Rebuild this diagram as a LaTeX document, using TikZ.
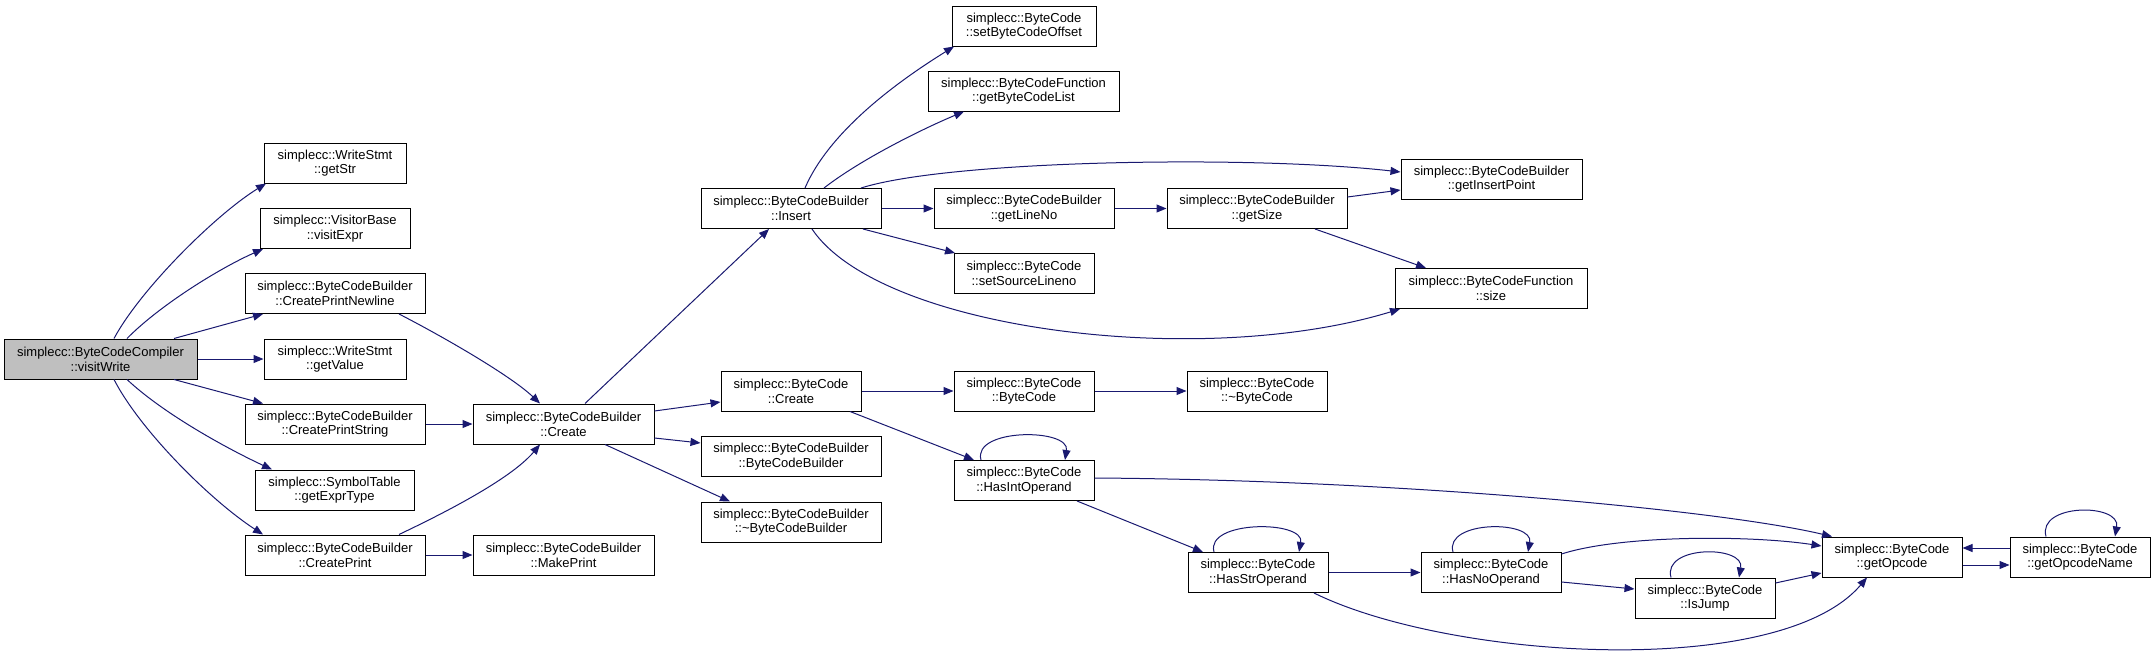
\documentclass[tikz,border=0pt]{standalone}
\usepackage{fontspec}
\setmainfont{Liberation Sans}
\usetikzlibrary{arrows.meta}
\definecolor{mblue}{RGB}{25,25,112}
\definecolor{nodegray}{RGB}{191,191,191}
\tikzset{
  box/.style={draw=black, line width=1pt, fill=white, inner sep=0pt, minimum height=40pt,
    align=center, font=\fontsize{13}{14.7}\selectfont},
  cg/.style={draw=mblue, line width=1pt, -{Triangle[length=10pt,width=8pt]}, fill=none}
}
\begin{document}
\begin{tikzpicture}[x=1pt,y=-1pt]
\useasboundingbox (0,0) rectangle (2156,656);
% nodes
\node[box, minimum width=193pt, fill=nodegray] (vw) at (100.5,359) {simplecc::ByteCodeCompiler\\::visitWrite};
\node[box, minimum width=142pt] (getStr) at (335,163) {simplecc::WriteStmt\\::getStr};
\node[box, minimum width=150pt] (visitExpr) at (335,228.5) {simplecc::VisitorBase\\::visitExpr};
\node[box, minimum width=180pt] (cpn) at (335,293.5) {simplecc::ByteCodeBuilder\\::CreatePrintNewline};
\node[box, minimum width=142pt] (getValue) at (335,359) {simplecc::WriteStmt\\::getValue};
\node[box, minimum width=180pt] (cps) at (335,424) {simplecc::ByteCodeBuilder\\::CreatePrintString};
\node[box, minimum width=159pt] (getExprType) at (334.5,490) {simplecc::SymbolTable\\::getExprType};
\node[box, minimum width=180pt] (cp) at (335,555) {simplecc::ByteCodeBuilder\\::CreatePrint};
\node[box, minimum width=181pt] (create) at (563.5,424) {simplecc::ByteCodeBuilder\\::Create};
\node[box, minimum width=181pt] (makePrint) at (563.5,555) {simplecc::ByteCodeBuilder\\::MakePrint};
\node[box, minimum width=180pt] (insert) at (791,208.5) {simplecc::ByteCodeBuilder\\::Insert};
\node[box, minimum width=140pt] (createBC) at (791,391) {simplecc::ByteCode\\::Create};
\node[box, minimum width=180pt] (bcbCtor) at (791,456.5) {simplecc::ByteCodeBuilder\\::ByteCodeBuilder};
\node[box, minimum width=180pt] (bcbDtor) at (791,522) {simplecc::ByteCodeBuilder\\::\textasciitilde ByteCodeBuilder};
\node[box, minimum width=144pt] (setBCO) at (1024,26) {simplecc::ByteCode\\::setByteCodeOffset};
\node[box, minimum width=191pt] (getBCL) at (1023.5,91) {simplecc::ByteCodeFunction\\::getByteCodeList};
\node[box, minimum width=180pt] (getLineNo) at (1024,208.5) {simplecc::ByteCodeBuilder\\::getLineNo};
\node[box, minimum width=140pt] (setSrc) at (1024,273.5) {simplecc::ByteCode\\::setSourceLineno};
\node[box, minimum width=140pt] (bcCtor) at (1024,391) {simplecc::ByteCode\\::ByteCode};
\node[box, minimum width=140pt] (hasInt) at (1024,480.5) {simplecc::ByteCode\\::HasIntOperand};
\node[box, minimum width=180pt] (getSize) at (1257,208.5) {simplecc::ByteCodeBuilder\\::getSize};
\node[box, minimum width=140pt] (bcDtor) at (1257,391) {simplecc::ByteCode\\::\textasciitilde ByteCode};
\node[box, minimum width=140pt] (hasStr) at (1258,572.5) {simplecc::ByteCode\\::HasStrOperand};
\node[box, minimum width=181pt] (getIP) at (1491.5,179) {simplecc::ByteCodeBuilder\\::getInsertPoint};
\node[box, minimum width=192pt] (size) at (1491,288.5) {simplecc::ByteCodeFunction\\::size};
\node[box, minimum width=140pt] (hasNo) at (1491,572.5) {simplecc::ByteCode\\::HasNoOperand};
\node[box, minimum width=140pt] (isJump) at (1705,598) {simplecc::ByteCode\\::IsJump};
\node[box, minimum width=140pt] (getOpcode) at (1892,557) {simplecc::ByteCode\\::getOpcode};
\node[box, minimum width=140pt] (getOpName) at (2080,557) {simplecc::ByteCode\\::getOpcodeName};
% edges from visitWrite
\draw[cg] (114,0 |- vw.north) .. controls (140,290) and (215,215) .. (266,0 |- getStr.south);
\draw[cg] (127,0 |- vw.north) .. controls (160,305) and (220,268) .. (263,0 |- visitExpr.south);
\draw[cg] (174,0 |- vw.north) -- (263,0 |- cpn.south);
\draw[cg] (vw.east) -- (getValue.west);
\draw[cg] (174,0 |- vw.south) -- (263,0 |- cps.north);
\draw[cg] (127,0 |- vw.south) .. controls (165,415) and (230,450) .. (272,0 |- getExprType.north);
\draw[cg] (114,0 |- vw.south) .. controls (140,430) and (210,500) .. (263,0 |- cp.north);
% to Create
\draw[cg] (399,0 |- cpn.south) .. controls (440,335) and (510,375) .. (540,0 |- create.north);
\draw[cg] (cps.east) -- (create.west);
\draw[cg] (399,0 |- cp.north) .. controls (440,515) and (510,480) .. (540,0 |- create.south);
\draw[cg] (cp.east) -- (makePrint.west);
% from Create
\draw[cg] (585,0 |- create.north) -- (769,0 |- insert.south);
\draw[cg] (create.east |- 0,411) -- (createBC.west |- 0,402);
\draw[cg] (create.east |- 0,438) -- (bcbCtor.west |- 0,443);
\draw[cg] (605,0 |- create.south) -- (730,0 |- bcbDtor.north);
% from Insert
\draw[cg] (805,0 |- insert.north) .. controls (830,130) and (900,80) .. (954,0 |- setBCO.south);
\draw[cg] (824,0 |- insert.north) .. controls (860,160) and (920,130) .. (964,0 |- getBCL.south);
\draw[cg] (861,0 |- insert.north) .. controls (950,160) and (1250,155) .. (getIP.west |- 0,172);
\draw[cg] (insert.east) -- (getLineNo.west);
\draw[cg] (863,0 |- insert.south) -- (955,0 |- setSrc.north);
\draw[cg] (812,0 |- insert.south) .. controls (880,330) and (1200,370) .. (1400,0 |- size.south);
\draw[cg] (getLineNo.east) -- (getSize.west);
\draw[cg] (getSize.east |- 0,197) -- (getIP.west |- 0,190);
\draw[cg] (1315,0 |- getSize.south) -- (1426,0 |- size.north);
% ByteCode::Create
\draw[cg] (createBC.east) -- (bcCtor.west);
\draw[cg] (bcCtor.east) -- (bcDtor.west);
\draw[cg] (850,0 |- createBC.south) -- (974,0 |- hasInt.north);
% HasIntOperand
\draw[cg] (981,0 |- hasInt.north) .. controls (972,428) and (1070,428) .. (1065,0 |- hasInt.north);
\draw[cg] (1077,0 |- hasInt.south) -- (1203,0 |- hasStr.north);
\draw[cg] (hasInt.east |- 0,478) .. controls (1400,480) and (1720,510) .. (1832,0 |- getOpcode.north);
% HasStrOperand
\draw[cg] (1214,0 |- hasStr.north) .. controls (1205,520) and (1305,520) .. (1299,0 |- hasStr.north);
\draw[cg] (hasStr.east) -- (hasNo.west);
\draw[cg] (1314,0 |- hasStr.south) .. controls (1450,660) and (1780,680) .. (1867,0 |- getOpcode.south);
% HasNoOperand
\draw[cg] (1453,0 |- hasNo.north) .. controls (1444,520) and (1534,520) .. (1528,0 |- hasNo.north);
\draw[cg] (hasNo.east |- 0,554) .. controls (1620,535) and (1750,535) .. (getOpcode.west |- 0,546);
\draw[cg] (hasNo.east |- 0,582) -- (isJump.west |- 0,589);
% IsJump
\draw[cg] (1671,0 |- isJump.north) .. controls (1662,545) and (1745,545) .. (1739,0 |- isJump.north);
\draw[cg] (isJump.east |- 0,583) -- (getOpcode.west |- 0,573);
% getOpcode / getOpcodeName
\draw[cg] (getOpName.west |- 0,548) -- (getOpcode.east |- 0,548);
\draw[cg] (getOpcode.east |- 0,565) -- (getOpName.west |- 0,565);
\draw[cg] (2046,0 |- getOpName.north) .. controls (2037,503) and (2121,503) .. (2115,0 |- getOpName.north);
\end{tikzpicture}
\end{document}
